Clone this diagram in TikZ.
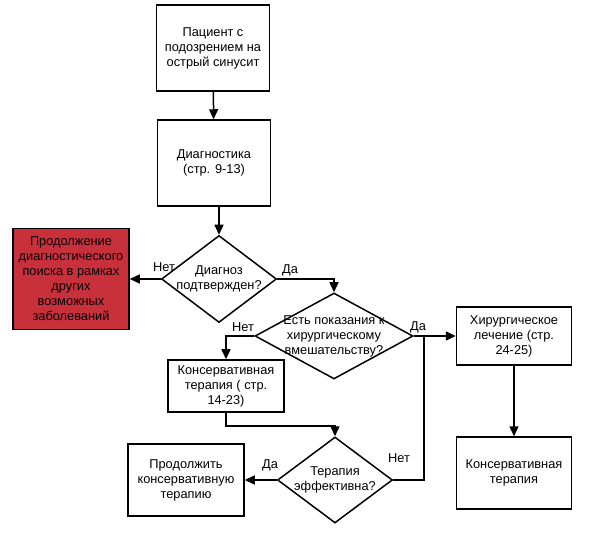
\documentclass[tikz,border=0pt]{standalone}
\usepackage{fontspec}
\setmainfont{Liberation Sans}
\usetikzlibrary{positioning, shapes.geometric, arrows.meta, calc}
\definecolor{alertred}{HTML}{C8313C}

\begin{document}
\begin{tikzpicture}[
  x=1pt, y=-1pt,
  every node/.style={font=\fontsize{12.8}{15}\selectfont},
  box/.style={rectangle, draw=black, line width=1.5pt, align=center, inner sep=0pt,
              minimum width=113pt, minimum height=#1},
  decision/.style={diamond, draw=black, line width=1.5pt, inner sep=0pt},
  dtext/.style={align=center, inner sep=0pt},
  arr/.style={-{Triangle[length=10pt, width=9pt]}, line width=1.5pt},
  link/.style={line width=1.5pt},
  answer/.style={inner sep=1pt},
]
\useasboundingbox (0,0) rectangle (592,545);

% main column
\node[box=86pt] (patient) at (213,48) {Пациент с\\подозрением на\\острый синусит};
\node[box=86pt] (diag) at (214,163) {Диагностика\\(стр. 9-13)};
\node[decision, minimum width=115pt, minimum height=87pt] (confirmed) at (219,279) {};
\node[dtext] (confirmedtxt) at (confirmed) {Диагноз\\подтвержден?};
\node[box=101pt, fill=alertred, minimum width=116pt] (other) at (71,279)
  {Продолжение\\диагностического\\поиска в рамках\\других\\возможных\\заболеваний};

% surgery question
\node[decision, minimum width=158pt, minimum height=86pt] (indication) at (334,336) {};
\node[dtext] (indicationtxt) at (indication) {Есть показания к\\хирургическому\\вмешательству?};
\node[box=52pt, minimum width=116pt] (conserv) at (226,386) {Консервативная\\терапия ( стр.\\14-23)};
\node[box=58pt, minimum width=115pt] (surgery) at (514,336) {Хирургическое\\лечение (стр.\\24-25)};
\node[box=72pt, minimum width=115pt] (conservtwo) at (514,473) {Консервативная\\терапия};

% efficiency question
\node[decision, minimum width=115pt, minimum height=86pt] (effective) at (335,480) {};
\node[dtext] (effectivetxt) at (effective) {Терапия\\эффективна?};
\node[box=72pt, minimum width=116pt] (continue) at (186,480) {Продолжить\\консервативную\\терапию};

% connectors
\draw[arr] (patient) -- (diag);
\draw[arr] (diag.south -| confirmed.north) -- (confirmed.north);
\draw[arr] (confirmed.west) -- (other.east);
\draw[arr] (confirmed.east) -| (indication.north);
\draw[arr] (indication.west) -| (conserv.north);
\draw[arr] (indication.east) -- (surgery.west);
\draw[arr] (surgery) -- (conservtwo);
\draw[arr] (conserv.south) -- ++(0,13) -| (effective.north);
\coordinate (merge) at (424,336);
\draw[link] (effective.east) -| (merge);
\draw[arr] (effective.west) -- (continue.east);

% answers
\node[answer] (no1) at (164,267) {Нет};
\node[answer] (yes1) at (290,270) {Да};
\node[answer] (no2) at (243,327) {Нет};
\node[answer] (yes2) at (418,327) {Да};
\node[answer] (no3) at (399,458) {Нет};
\node[answer] (yes3) at (270,465) {Да};
\end{tikzpicture}
\end{document}
